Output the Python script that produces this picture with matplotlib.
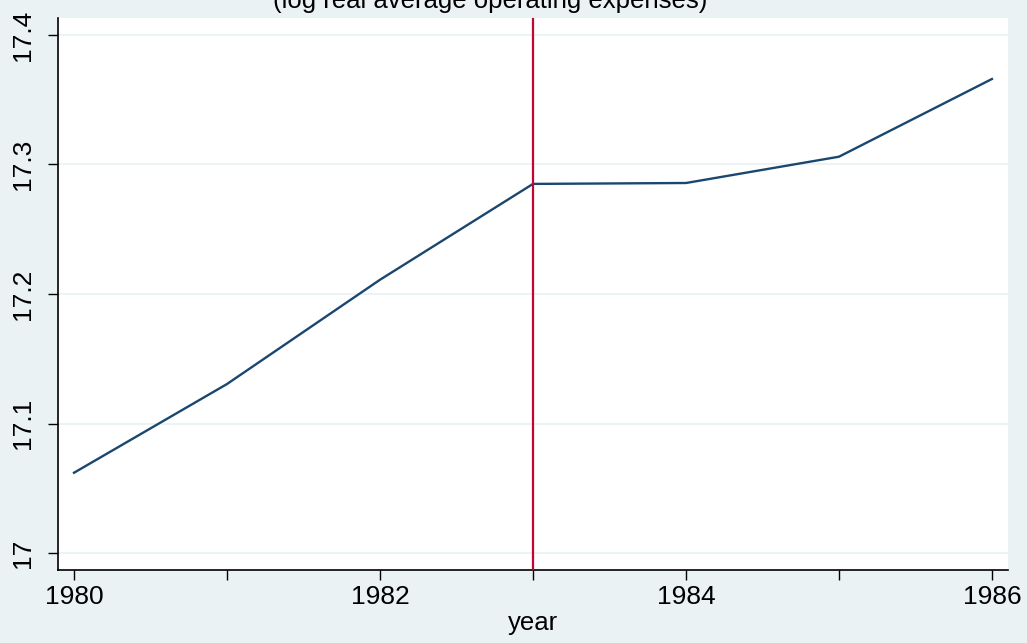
import matplotlib.pyplot as plt

# data
years = [1980, 1981, 1982, 1983, 1984, 1985, 1986]
log_opex = [17.062, 17.1305, 17.211, 17.285, 17.2857, 17.306, 17.366]
x_ticks = [1980, 1981, 1982, 1983, 1984, 1985, 1986]
x_labels = ['1980', '', '1982', '', '1984', '', '1986']
y_ticks = [17.0, 17.1, 17.2, 17.3, 17.4]
y_labels = ['17', '17.1', '17.2', '17.3', '17.4']
event_year = 1983

plt.rcParams['font.family'] = ['Liberation Sans', 'DejaVu Sans']

bg = '#EAF2F3'
fig = plt.figure(figsize=(10.27, 6.43), dpi=100, facecolor=bg)
ax = fig.add_axes([57.5 / 1027, 73 / 643, (1008 - 57.5) / 1027, (570 - 18) / 643])
ax.set_facecolor('white')

ax.plot(years, log_opex, color='#1A476F', lw=1.7, zorder=3)
ax.axvline(event_year, color='#C10534', lw=1.6, zorder=4)

ax.set_xlim(1979.892, 1986.105)
ax.set_ylim(16.9869, 17.4131)
ax.set_xticks(x_ticks)
ax.set_xticklabels(x_labels)
ax.set_yticks(y_ticks)
ax.set_yticklabels(y_labels, rotation=90, va='center')

for y in y_ticks:
    ax.axhline(y, color=bg, lw=1.3, zorder=1)

for s in ['top', 'right']:
    ax.spines[s].set_visible(False)
for s in ['left', 'bottom']:
    ax.spines[s].set_linewidth(1.2)
    ax.spines[s].set_color('black')

ax.tick_params(axis='both', length=7, width=1.0, labelsize=19)
ax.tick_params(axis='x', pad=4)
ax.tick_params(axis='y', pad=9)

ax.set_xlabel('year', fontsize=18.5, labelpad=1)
fig.text(490 / 1027, 1 - 8 / 643, '(log real average operating expenses)',
         ha='center', va='baseline', fontsize=18.5)

fig.savefig('out.png', dpi=100, facecolor=bg)
